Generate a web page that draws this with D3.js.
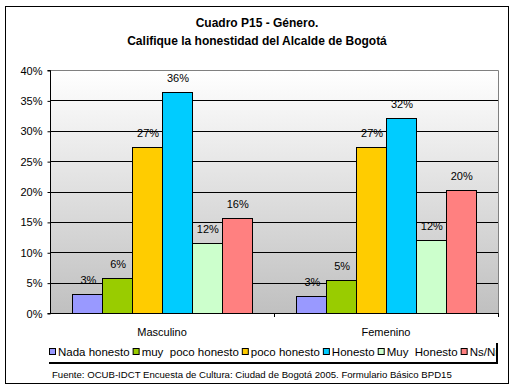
<!DOCTYPE html>
<html>
<head>
<meta charset="utf-8">
<script src="https://cdn.jsdelivr.net/npm/d3@7"></script>
<style>
  body { margin: 0; background: #fff; }
  text { font-family: "Liberation Sans", Arial, sans-serif; fill: #000; }
</style>
</head>
<body>
<div class="chart"></div>
<script>
var categories = ["Masculino", "Femenino"];
var series = ["Nada honesto", "muy  poco honesto", "poco honesto", "Honesto", "Muy  Honesto", "Ns/Nr"];
var colors = ["#9999ff", "#99cc00", "#ffcc00", "#00ccff", "#ccffcc", "#ff8080"];
var masculino = [3.1, 5.8, 27.3, 36.4, 11.5, 15.6];
var femenino = [2.8, 5.4, 27.3, 32.1, 12.0, 20.2];
var yTicks = [0, 5, 10, 15, 20, 25, 30, 35, 40];
var title1 = "Cuadro P15 - Género.";
var title2 = "Califique la honestidad del Alcalde de Bogotá";
var source = "Fuente: OCUB-IDCT Encuesta de Cultura: Ciudad de Bogotá 2005. Formulario Básico BPD15";

var W = 515, H = 391;
var plot = {left: 50, right: 498, top: 70, bottom: 313};

var svg = d3.select(".chart").append("svg")
    .attr("width", W)
    .attr("height", H);

// outer frame
svg.append("rect")
    .attr("x", 5.5).attr("y", 6.5)
    .attr("width", 503).attr("height", 377)
    .attr("fill", "#fff").attr("stroke", "#000");

svg.append("text").attr("x", 257).attr("y", 27)
    .attr("text-anchor", "middle").attr("font-size", 12).attr("font-weight", "bold")
    .text(title1);
svg.append("text").attr("x", 257).attr("y", 45)
    .attr("text-anchor", "middle").attr("font-size", 12).attr("font-weight", "bold")
    .text(title2);

var defs = svg.append("defs");
var grad = defs.append("linearGradient").attr("id", "bg")
    .attr("x1", 0).attr("y1", 0).attr("x2", 0).attr("y2", 1);
grad.append("stop").attr("offset", "0%").attr("stop-color", "#ffffff");
grad.append("stop").attr("offset", "100%").attr("stop-color", "#c0c0c0");

var y = d3.scaleLinear().domain([0, 40]).range([plot.bottom, plot.top]);
var x0 = d3.scaleBand().domain(categories).range([plot.left, plot.right]).padding(0);
var x1 = d3.scaleBand().domain(series).range([0, x0.bandwidth()])
    .paddingInner(0).paddingOuter(0.75);

svg.append("rect")
    .attr("x", plot.left).attr("y", plot.top)
    .attr("width", plot.right - plot.left).attr("height", plot.bottom - plot.top)
    .attr("fill", "url(#bg)");

// gridlines
svg.append("g").selectAll("line")
    .data(yTicks.filter(function(d) { return d > 0 && d < 40; }))
    .enter().append("line")
    .attr("x1", plot.left).attr("x2", plot.right)
    .attr("y1", function(d) { return Math.round(y(d)) + 0.5; })
    .attr("y2", function(d) { return Math.round(y(d)) + 0.5; })
    .attr("stroke", "#000");

// plot border top/right in gray
svg.append("path")
    .attr("d", "M" + plot.left + "," + (plot.top + 0.5) + "H" + (plot.right + 0.5) + "V" + plot.bottom)
    .attr("fill", "none").attr("stroke", "#808080");

var rows = [masculino, femenino];
var groups = svg.append("g").selectAll("g")
    .data(categories)
    .enter().append("g")
    .attr("transform", function(d) { return "translate(" + x0(d) + ",0)"; });

groups.each(function(c, ci) {
  var g = d3.select(this);
  var vals = series.map(function(s, si) { return {s: s, v: rows[ci][si], c: colors[si]}; });
  g.selectAll("rect").data(vals).enter().append("rect")
      .attr("x", function(d) { return Math.round(x1(d.s)) + 0.5; })
      .attr("y", function(d) { return Math.round(y(d.v)) + 0.5; })
      .attr("width", function(d) { return Math.round(x1.bandwidth()); })
      .attr("height", function(d) { return Math.round(y(0)) - Math.round(y(d.v)); })
      .attr("fill", function(d) { return d.c; })
      .attr("stroke", "#000");
  g.selectAll("text").data(vals).enter().append("text")
      .attr("x", function(d) { return x1(d.s) + x1.bandwidth() / 2 + 1; })
      .attr("y", function(d) { return y(d.v) - 10; })
      .attr("text-anchor", "middle").attr("font-size", 11)
      .text(function(d) { return Math.round(d.v) + "%"; });
});

// y axis
var yAxis = svg.append("g")
    .attr("transform", "translate(" + (plot.left + 0.5) + ",0.5)")
    .call(d3.axisLeft(y).tickValues(yTicks).tickSize(3).tickPadding(5)
      .tickFormat(function(d) { return d + "%"; }));
yAxis.select(".domain").attr("d", "M-3," + y(40) + "H0V" + y(0) + "H-3").attr("stroke", "#000");
yAxis.selectAll("text").attr("font-size", 11).attr("font-family", "Liberation Sans, Arial, sans-serif");

// x axis
svg.append("line")
    .attr("x1", plot.left).attr("x2", plot.right + 1)
    .attr("y1", plot.bottom + 0.5).attr("y2", plot.bottom + 0.5)
    .attr("stroke", "#000");
svg.append("g").selectAll("line")
    .data(categories.slice(1).concat(["end"]))
    .enter().append("line")
    .attr("x1", function(d) { return (d === "end" ? plot.right : x0(d)) + 0.5; })
    .attr("x2", function(d) { return (d === "end" ? plot.right : x0(d)) + 0.5; })
    .attr("y1", plot.bottom).attr("y2", plot.bottom + 4)
    .attr("stroke", "#000");
svg.append("g").selectAll("text")
    .data(categories).enter().append("text")
    .attr("x", function(d) { return x0(d) + x0.bandwidth() / 2; })
    .attr("y", 336)
    .attr("text-anchor", "middle").attr("font-size", 11)
    .text(function(d) { return d; });

// legend
var lx = 47, ly = 341, lw = 449, lh = 21;
svg.append("rect").attr("x", lx + 2).attr("y", ly + 2).attr("width", lw).attr("height", lh).attr("fill", "#000");
svg.append("rect").attr("x", lx).attr("y", ly).attr("width", lw).attr("height", lh).attr("fill", "#fff");
defs.append("clipPath").attr("id", "legclip").append("rect")
    .attr("x", lx).attr("y", ly).attr("width", lw).attr("height", lh);
var leg = svg.append("g").attr("clip-path", "url(#legclip)");
var cx = 49;
series.forEach(function(s, i) {
  leg.append("rect").attr("x", cx + 0.5).attr("y", 348.5).attr("width", 6).attr("height", 6)
      .attr("fill", colors[i]).attr("stroke", "#000");
  var t = leg.append("text").attr("x", cx + 9).attr("y", 356).attr("font-size", 11.5)
      .attr("xml:space", "preserve").style("white-space", "pre").text(s);
  cx = cx + 9 + t.node().getComputedTextLength() + 3;
});

svg.append("text").attr("x", 52).attr("y", 378).attr("font-size", 9.6)
    .text(source);
</script>
</body>
</html>
